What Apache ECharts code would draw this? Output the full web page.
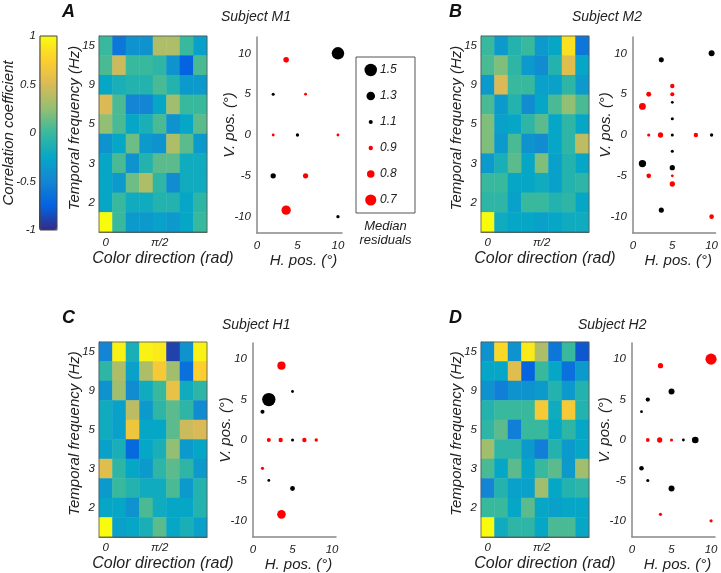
<!DOCTYPE html>
<html>
<head>
<meta charset="utf-8">
<script src="https://cdn.jsdelivr.net/npm/echarts@6/dist/echarts.min.js"></script>
<style>
  html, body { margin: 0; padding: 0; background: #fff; }
  #chart { width: 721px; height: 573px; }
</style>
</head>
<body>
<div id="chart"></div>
<script>
// tick labels
const freqTicks = ['', '2', '', '3', '', '5', '', '9', '', '15']; // bottom -> top
const dirTicks = ['0', '', '', '', 'π/2', '', '', ''];
const legendVals = [1.5, 1.3, 1.1, 0.9, 0.8, 0.7];

// correlation maps, rows top (15 Hz) -> bottom, 8 colour directions
const m1Corr = [
  [0.0, -0.6, -0.4, -0.4, 0.35, 0.35, 0.0, -0.3],
  [0.05, 0.45, 0.0, 0.0, -0.05, -0.4, -0.75, 0.05],
  [-0.25, -0.15, -0.1, -0.1, 0.05, -0.1, -0.35, -0.35],
  [0.5, 0.05, -0.5, -0.5, -0.25, 0.3, 0.0, 0.0],
  [0.25, 0.05, -0.25, -0.15, 0.05, -0.4, -0.25, 0.1],
  [-0.4, -0.25, 0.15, -0.35, -0.4, 0.35, 0.1, -0.35],
  [-0.25, 0.05, -0.4, -0.1, 0.1, 0.1, -0.2, -0.2],
  [-0.25, -0.35, 0.15, 0.35, -0.05, -0.45, -0.2, -0.2],
  [-0.25, 0.0, -0.2, -0.2, -0.1, -0.1, -0.25, -0.05],
  [1.0, 0.0, -0.35, -0.35, -0.3, -0.35, -0.25, 0.0]
];
const m2Corr = [
  [0.0, -0.35, -0.1, 0.0, -0.35, -0.25, 0.85, -0.6],
  [0.05, 0.2, -0.05, -0.35, -0.45, -0.1, 0.55, -0.25],
  [-0.35, 0.5, 0.0, 0.0, -0.3, -0.3, -0.05, -0.35],
  [0.05, -0.35, -0.1, -0.45, -0.25, 0.05, 0.25, 0.05],
  [0.2, -0.3, -0.25, -0.05, 0.1, -0.25, -0.05, -0.25],
  [0.2, -0.35, 0.05, -0.4, -0.45, -0.25, -0.05, 0.4],
  [-0.35, -0.15, 0.1, -0.25, 0.2, -0.3, -0.1, -0.25],
  [0.0, 0.0, -0.25, -0.25, -0.2, -0.3, -0.1, -0.05],
  [-0.05, -0.05, -0.3, 0.0, 0.0, -0.1, -0.05, -0.25],
  [1.0, -0.2, -0.25, -0.25, -0.3, -0.25, -0.2, -0.2]
];
const h1Corr = [
  [-0.5, 0.95, -0.15, 0.95, 0.9, -0.9, -0.4, 0.95],
  [-0.05, 0.35, -0.3, 0.35, 0.7, 0.3, -0.65, 0.75],
  [-0.4, 0.3, -0.45, -0.2, 0.0, 0.6, -0.2, -0.05],
  [-0.2, -0.3, 0.4, -0.35, -0.05, 0.1, -0.05, -0.45],
  [-0.2, -0.3, 0.65, -0.25, -0.25, 0.1, 0.45, 0.5],
  [-0.3, -0.15, -0.7, -0.25, -0.15, 0.25, -0.35, -0.25],
  [0.55, -0.05, -0.25, -0.35, -0.05, 0.1, -0.05, -0.35],
  [-0.35, 0.0, -0.1, -0.2, -0.2, 0.05, -0.35, -0.1],
  [-0.25, -0.25, -0.4, 0.05, -0.2, -0.25, -0.25, -0.1],
  [1.0, -0.3, -0.25, -0.15, 0.1, -0.25, -0.15, -0.3]
];
const h2Corr = [
  [-0.4, 0.8, -0.4, 0.9, 0.35, -0.6, 0.0, -0.8],
  [-0.25, -0.25, 0.55, -0.75, 0.0, -0.25, -0.65, -0.35],
  [-0.4, -0.55, -0.4, -0.4, -0.35, -0.1, -0.35, -0.1],
  [-0.1, 0.0, 0.0, 0.0, 0.7, -0.2, 0.7, -0.1],
  [-0.05, 0.1, -0.55, 0.0, 0.0, -0.25, -0.05, -0.25],
  [0.3, -0.05, -0.05, -0.35, -0.55, -0.1, -0.35, -0.25],
  [0.05, -0.25, 0.1, -0.25, 0.0, 0.1, -0.35, 0.3],
  [-0.5, -0.1, -0.3, -0.3, 0.3, -0.25, -0.1, -0.05],
  [0.0, 0.0, -0.25, 0.1, -0.25, -0.3, -0.25, -0.25],
  [1.0, -0.2, -0.05, -0.05, -0.25, 0.05, 0.05, -0.25]
];

// receptive field positions [H. pos, V. pos, median residual]
const m1Points = [
  [10, 10, 1.5], [3.6, 9.2, 0.86], [2, 5, 1.06], [6, 5, 0.95], [2, 0, 0.95],
  [5, 0, 1.07], [10, 0, 0.95], [2, -5, 1.15], [6, -5, 0.87], [3.6, -9.2, 0.75],
  [10, -10, 1.07]
];
const m2Points = [
  [10, 10, 1.18], [3.6, 9.2, 1.14], [5, 6, 0.9], [2, 5, 0.88], [5, 5, 0.91],
  [5, 4, 1.05], [1.2, 3.5, 0.82], [5, 2, 1.06], [2, 0, 0.94], [3.5, 0, 0.87],
  [5, 0, 1.06], [8, 0, 0.9], [10, 0, 1.07], [5, -2, 1.06], [1.2, -3.5, 1.24],
  [5, -4, 1.15], [2, -5, 0.89], [5, -5, 0.95], [5, -6, 0.87], [3.6, -9.2, 1.14],
  [10, -10, 0.89]
];
const h1Points = [
  [3.6, 9.2, 0.78], [5, 6, 1.05], [2, 5, 1.55], [1.2, 3.5, 1.1], [2, 0, 0.91],
  [3.5, 0, 0.9], [5, 0, 1.06], [6.5, 0, 0.9], [8, 0, 0.93], [1.2, -3.5, 0.94],
  [2, -5, 1.05], [5, -6, 1.13], [3.6, -9.2, 0.77]
];
const h2Points = [
  [10, 10, 0.7], [3.6, 9.2, 0.87], [5, 6, 1.18], [2, 5, 1.11], [1.2, 3.5, 1.05],
  [2, 0, 0.92], [3.5, 0, 0.87], [5, 0, 0.94], [6.5, 0, 1.05], [8, 0, 1.21],
  [1.2, -3.5, 1.12], [2, -5, 1.06], [5, -6, 1.18], [3.6, -9.2, 0.94],
  [10, -10, 0.94]
];

const parula = ['#352a87', '#0363e1', '#1485d4', '#06a7c6', '#38b99e',
  '#92bf73', '#d9ba56', '#fcce2e', '#f9fb0e'];
const font = 'Liberation Sans, Arial, sans-serif';
const txt = '#222';

function toCells(rows) {
  const out = [];
  rows.forEach((row, r) => {
    row.forEach((v, c) => out.push([c, rows.length - 1 - r, v]));
  });
  return out;
}
const dotSize = (r) => 1.5 + 27 * Math.abs(Math.log(r));
const dotColor = (p) => (p.value[2] > 1 ? '#000' : '#ff0000');

const chart = echarts.init(document.getElementById('chart'));

const heatGrids = [
  { left: 99, top: 36, width: 108, height: 196 },
  { left: 481, top: 36, width: 108, height: 196 },
  { left: 99, top: 342, width: 108, height: 196 },
  { left: 481, top: 342, width: 108, height: 196 }
];
const dotGrids = [
  { left: 257, top: 37, width: 85, height: 196 },
  { left: 633, top: 37, width: 85, height: 196 },
  { left: 253, top: 343, width: 83, height: 196 },
  { left: 632, top: 343, width: 83, height: 196 }
];
const maps = [m1Corr, m2Corr, h1Corr, h2Corr];
const points = [m1Points, m2Points, h1Points, h2Points];

const grid = [];
const xAxis = [];
const yAxis = [];
const series = [];
const labelStyle = { color: txt, fontSize: 11.5, fontStyle: 'italic', fontFamily: font };
const nameStyle = { color: txt, fontSize: 15, fontStyle: 'italic', fontFamily: font };

for (let k = 0; k < 4; k++) {
  const hi = grid.length;
  grid.push(Object.assign({ show: true, borderColor: '#555', borderWidth: 0.8, z: 3 }, heatGrids[k]));
  xAxis.push({
    gridIndex: hi, type: 'category', data: dirTicks.map((t, i) => i),
    axisLine: { lineStyle: { color: '#555', width: 1 } }, axisTick: { show: false },
    axisLabel: Object.assign({ interval: 0, margin: 5, formatter: (v, i) => dirTicks[i] }, labelStyle),
    name: 'Color direction (rad)', nameLocation: 'middle', nameGap: 19, nameMoveOverlap: false,
    nameTextStyle: Object.assign({}, nameStyle, { fontSize: 16, padding: [0, 0, 0, 20] })
  });
  yAxis.push({
    gridIndex: hi, type: 'category', data: freqTicks.map((t, i) => i),
    axisLine: { lineStyle: { color: '#555', width: 1 } }, axisTick: { show: false },
    axisLabel: Object.assign({ interval: 0, margin: 4, formatter: (v, i) => freqTicks[i] }, labelStyle),
    name: 'Temporal frequency (Hz)', nameLocation: 'middle', nameGap: 17, nameMoveOverlap: false,
    nameTextStyle: Object.assign({}, nameStyle, { padding: [0, 0, 0, 12] })
  });
  series.push({
    type: 'heatmap', xAxisIndex: hi, yAxisIndex: hi, data: toCells(maps[k]),
    emphasis: { disabled: true }
  });

  const di = grid.length;
  grid.push(dotGrids[k]);
  xAxis.push({
    gridIndex: di, type: 'value', min: 0, max: 10.5,
    axisLine: { onZero: false, lineStyle: { color: '#888', width: 1.5 } }, axisTick: { show: false },
    splitLine: { show: false },
    axisLabel: Object.assign({ margin: 7, customValues: [0, 5, 10] }, labelStyle),
    name: 'H. pos. (°)', nameLocation: 'middle', nameGap: 20, nameMoveOverlap: false,
    nameTextStyle: Object.assign({}, nameStyle, { padding: [0, 0, 0, 8] })
  });
  yAxis.push({
    gridIndex: di, type: 'value', min: -12, max: 12,
    axisLine: { show: true, onZero: false, lineStyle: { color: '#888', width: 1.5 } }, axisTick: { show: false },
    splitLine: { show: false },
    axisLabel: Object.assign({ margin: 6, customValues: [-10, -5, 0, 5, 10] }, labelStyle),
    name: 'V. pos. (°)', nameLocation: 'middle', nameGap: 20, nameMoveOverlap: false,
    nameTextStyle: Object.assign({}, nameStyle, { padding: [0, 0, 0, 20] })
  });
  series.push({
    type: 'scatter', xAxisIndex: di, yAxisIndex: di, data: points[k],
    symbolSize: (v) => dotSize(v[2]), itemStyle: { color: dotColor, opacity: 1 },
    emphasis: { disabled: true }
  });
}

// size legend
grid.push({ left: 356, top: 57, width: 59, height: 156, show: true, borderColor: '#555', borderWidth: 1 });
xAxis.push({
  gridIndex: 8, type: 'value', min: 0, max: 1,
  axisLine: { show: false }, axisTick: { show: false }, axisLabel: { show: false }, splitLine: { show: false },
  name: 'Median\nresiduals', nameLocation: 'middle', nameGap: 6, nameMoveOverlap: false,
  nameTextStyle: { color: txt, fontSize: 13, fontStyle: 'italic', fontFamily: font, lineHeight: 14, verticalAlign: 'top' }
});
yAxis.push({
  gridIndex: 8, type: 'category', inverse: true, data: legendVals.map(String),
  axisLine: { show: false }, axisTick: { show: false },
  axisLabel: Object.assign({}, labelStyle, { inside: true, margin: 24, fontSize: 12 })
});
series.push({
  type: 'scatter', xAxisIndex: 8, yAxisIndex: 8,
  data: legendVals.map((v, i) => [0.25, i, v]),
  symbolSize: (v) => dotSize(v[2]), itemStyle: { color: dotColor, opacity: 1 },
  emphasis: { disabled: true }
});

// colour bar axis
grid.push({ left: 39, top: 36, width: 18, height: 194, show: true, borderColor: '#444', borderWidth: 1, z: 10 });
xAxis.push({ gridIndex: 9, type: 'value', show: false, min: 0, max: 1 });
yAxis.push({
  gridIndex: 9, type: 'value', min: -1, max: 1, interval: 0.5,
  axisLine: { show: false }, axisTick: { show: false }, splitLine: { show: false },
  axisLabel: Object.assign({ margin: 4 }, labelStyle),
  name: 'Correlation coefficient', nameLocation: 'middle', nameGap: 24, nameMoveOverlap: false,
  nameTextStyle: nameStyle
});

const letter = { fontSize: 18, fontStyle: 'italic', fontWeight: 'bold', color: '#111', fontFamily: font };
const subj = { fontSize: 14, fontStyle: 'italic', fontWeight: 'normal', color: txt, fontFamily: font };

chart.setOption({
  animation: false,
  backgroundColor: '#fff',
  title: [
    { text: 'A', left: 62, top: 3, textStyle: letter, padding: 0 },
    { text: 'Subject M1', left: 221, top: 10, textStyle: subj, padding: 0 },
    { text: 'B', left: 449, top: 3, textStyle: letter, padding: 0 },
    { text: 'Subject M2', left: 572, top: 10, textStyle: subj, padding: 0 },
    { text: 'C', left: 62, top: 309, textStyle: letter, padding: 0 },
    { text: 'Subject H1', left: 222, top: 318, textStyle: subj, padding: 0 },
    { text: 'D', left: 449, top: 309, textStyle: letter, padding: 0 },
    { text: 'Subject H2', left: 578, top: 318, textStyle: subj, padding: 0 }
  ],
  visualMap: {
    type: 'continuous', min: -1, max: 1, seriesIndex: [0, 2, 4, 6],
    inRange: { color: parula }, calculable: false, text: null, padding: 0,
    left: 39, top: 36, itemWidth: 18, itemHeight: 194, showLabel: false
  },
  grid: grid,
  xAxis: xAxis,
  yAxis: yAxis,
  series: series
});
</script>
</body>
</html>
